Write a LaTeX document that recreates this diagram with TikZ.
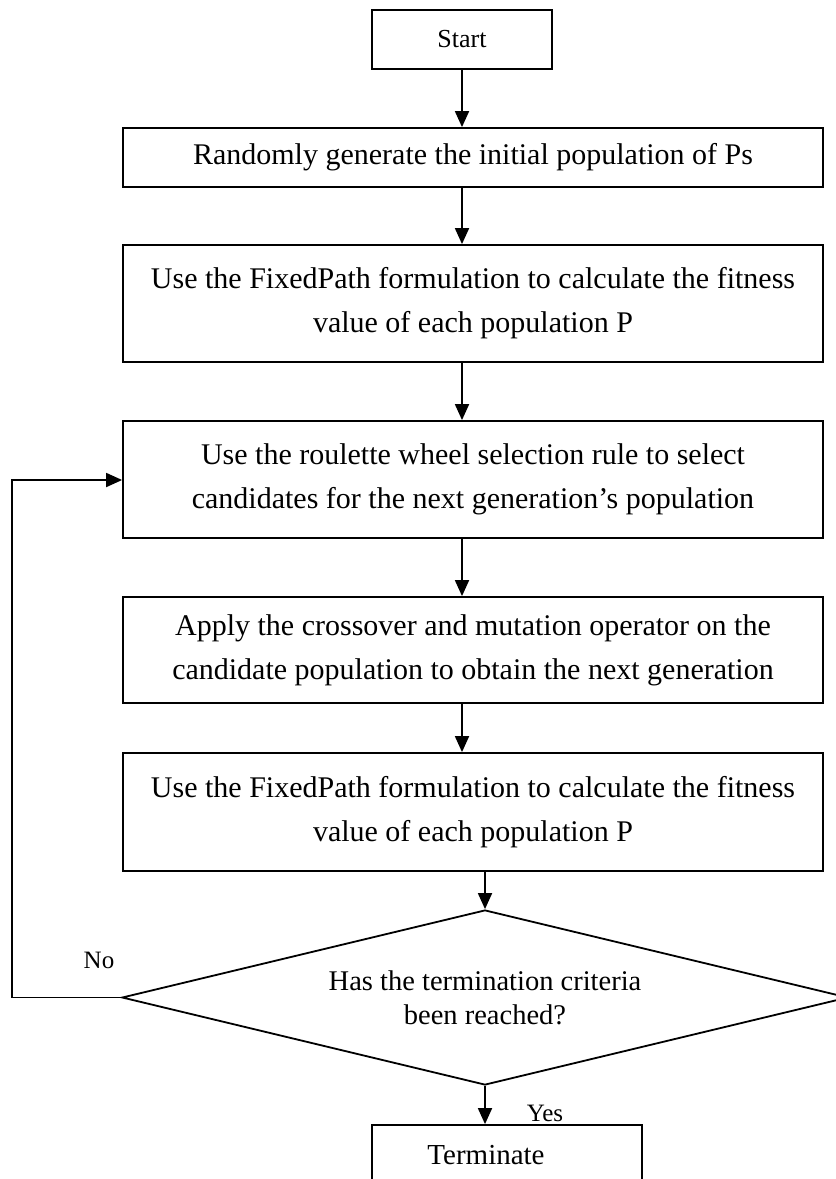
\documentclass[tikz,border=0pt]{standalone}
\usepackage{fontspec}
\setmainfont{Liberation Serif}
\usetikzlibrary{shapes.geometric,arrows.meta}
\begin{document}
\begin{tikzpicture}[x=1pt,y=-1pt, line width=1.8pt,
  box/.style={draw, rectangle, inner sep=0pt, align=center, font=\fontsize{30}{44}\selectfont},
  arr/.style={-{Triangle[width=14pt,length=16pt]}},
  lbl/.style={inner sep=0pt, font=\fontsize{25}{30}\selectfont}]
\useasboundingbox (0,0) rectangle (836,1179);
\node[box, minimum width=180pt, minimum height=59pt, font=\fontsize{26}{30}\selectfont] (start) at (462,39.5) {Start};
\node[box, minimum width=700pt, minimum height=59pt] (gen) at (473,157.5) {Randomly generate the initial population of Ps};
\node[box, minimum width=700pt, minimum height=117pt] (fit1) at (473,303.5) {Use the FixedPath formulation to calculate the fitness\\value of each population P};
\node[box, minimum width=700pt, minimum height=117pt] (sel) at (473,479.5) {Use the roulette wheel selection rule to select\\candidates for the next generation’s population};
\node[box, minimum width=700pt, minimum height=106pt] (cross) at (473,650) {Apply the crossover and mutation operator on the\\candidate population to obtain the next generation};
\node[box, minimum width=700pt, minimum height=118pt] (fit2) at (473,812) {Use the FixedPath formulation to calculate the fitness\\value of each population P};
\node[diamond, draw, shape aspect=4.15, minimum width=726pt, minimum height=175pt, inner sep=0pt, align=center, font=\fontsize{28.5}{34}\selectfont] (dec) at (485,997.5) {Has the termination criteria\\been reached?};
\node[box, minimum width=270pt, minimum height=65pt] (term) at (507,1157.5) {};
\node[inner sep=0pt, font=\fontsize{29}{34}\selectfont] (termtxt) at (486,1155) {Terminate};
\node[lbl] (no) at (99,960) {No};
\node[lbl] (yes) at (545,1113) {Yes};
\coordinate (colA) at (462,0);
\coordinate (loopx) at (12,480);
\draw[arr] (start.south) -- (start.south |- gen.north);
\draw[arr] (gen.south -| colA) -- (fit1.north -| colA);
\draw[arr] (fit1.south -| colA) -- (sel.north -| colA);
\draw[arr] (sel.south -| colA) -- (cross.north -| colA);
\draw[arr] (cross.south -| colA) -- (fit2.north -| colA);
\draw[arr] (fit2.south -| dec.north) -- (dec.north);
\draw[arr] (dec.south) -- (term.north -| dec.south);
\draw[arr] (dec.west) -| (loopx) -- (sel.west |- loopx);
\end{tikzpicture}
\end{document}
